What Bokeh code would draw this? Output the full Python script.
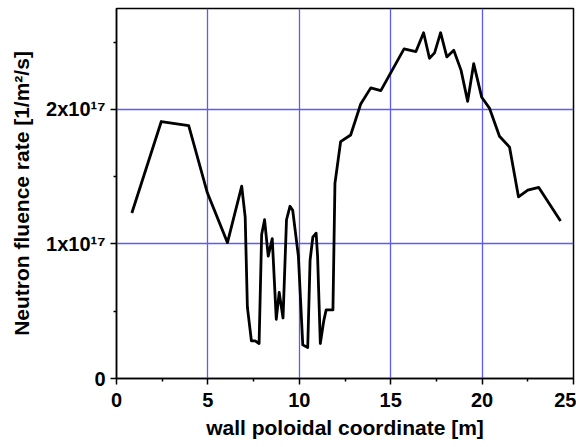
from bokeh.plotting import figure
from bokeh.models import Range1d, FixedTicker
from bokeh.embed import file_html
from bokeh.resources import INLINE

# wall poloidal coordinate [m]
x_coord = [0.84, 2.45, 3.95, 4.97, 6.07, 6.85, 7.04, 7.16, 7.38, 7.58, 7.80, 7.94,
           8.10, 8.30, 8.52, 8.74, 8.90, 9.11, 9.30, 9.49, 9.64, 9.95, 10.19, 10.46,
           10.59, 10.74, 10.92, 11.00, 11.15, 11.34, 11.47, 11.84, 11.95, 12.26, 12.81,
           13.36, 13.91, 14.46, 15.73, 16.38, 16.80, 17.12, 17.40, 17.73, 18.07, 18.45,
           18.85, 19.21, 19.54, 19.98, 20.40, 20.95, 21.50, 21.99, 22.50, 23.10, 24.29]
# neutron fluence rate [1e17 1/m^2/s]
rate_e17 = [1.23, 1.91, 1.88, 1.38, 1.01, 1.43, 1.20, 0.53, 0.28, 0.28, 0.26, 1.07,
            1.18, 0.91, 1.04, 0.44, 0.64, 0.45, 1.18, 1.28, 1.25, 0.91, 0.25, 0.23,
            0.88, 1.05, 1.08, 0.91, 0.26, 0.43, 0.51, 0.51, 1.45, 1.76, 1.81,
            2.04, 2.16, 2.14, 2.45, 2.43, 2.57, 2.38, 2.42, 2.57, 2.39, 2.44,
            2.29, 2.06, 2.34, 2.09, 2.01, 1.80, 1.72, 1.35, 1.40, 1.42, 1.17]
rate = [v * 1e17 for v in rate_e17]

x_ticks = [0, 5, 10, 15, 20, 25]
x_minor = [2.5, 7.5, 12.5, 17.5, 22.5]
y_ticks = [0, 1e17, 2e17]
y_minor = [0.5e17, 1.5e17, 2.5e17]
y_tick_labels = {0: "0", 1e17: "1x10\u00b9\u2077", 2e17: "2x10\u00b9\u2077"}

FONT = "Liberation Sans"

p = figure(width=576, height=447, output_backend="svg", toolbar_location=None,
           x_range=Range1d(0, 25), y_range=Range1d(0, 2.75e17),
           min_border_left=116, min_border_right=3, min_border_top=8,
           min_border_bottom=69)
p.line(x_coord, rate, line_color="black", line_width=2.8, line_join="round")

p.outline_line_color = "black"
p.outline_line_width = 1.5
p.background_fill_color = "white"
p.border_fill_color = "white"

p.xaxis.ticker = FixedTicker(ticks=x_ticks, minor_ticks=x_minor)
p.yaxis.ticker = FixedTicker(ticks=y_ticks, minor_ticks=y_minor)
p.yaxis.major_label_overrides = y_tick_labels

for ax in (p.xaxis[0], p.yaxis[0]):
    ax.axis_line_color = "black"
    ax.axis_line_width = 1.5
    ax.major_tick_line_color = "black"
    ax.major_tick_line_width = 1.5
    ax.minor_tick_line_color = "black"
    ax.minor_tick_line_width = 1.5
    ax.major_tick_in = 0
    ax.major_tick_out = 6
    ax.minor_tick_in = 0
    ax.minor_tick_out = 3
    ax.major_label_text_font = FONT
    ax.major_label_text_font_style = "bold"
    ax.major_label_text_font_size = "20px"
    ax.major_label_text_color = "black"
    ax.axis_label_text_font = FONT
    ax.axis_label_text_font_style = "bold"
    ax.axis_label_text_font_size = "21px"
    ax.axis_label_text_color = "black"

p.xaxis.axis_label = "wall poloidal coordinate [m]"
p.yaxis.axis_label = "Neutron fluence rate [1/m\u00b2/s]"
p.xaxis.major_label_standoff = 8
p.xaxis.axis_label_standoff = 6
p.yaxis.major_label_standoff = 5
p.yaxis.axis_label_standoff = 10

p.grid.grid_line_color = "#5a5aff"
p.grid.grid_line_alpha = 1.0
p.grid.grid_line_width = 1.3
p.xgrid.ticker = FixedTicker(ticks=[5, 10, 15, 20])
p.ygrid.ticker = FixedTicker(ticks=[1e17, 2e17])

open("out.html", "w").write(file_html(p, INLINE))
